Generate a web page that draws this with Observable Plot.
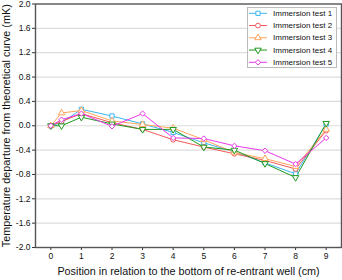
<!DOCTYPE html>
<html><head><meta charset="utf-8">
<script src="https://cdn.jsdelivr.net/npm/d3@7"></script>
<script src="https://cdn.jsdelivr.net/npm/@observablehq/plot@0.6"></script>
<style>body{margin:0;background:#fff;} svg{display:block;}</style>
</head><body><div id="chart"></div>
<script>
const positions = [0, 0.35, 1, 2, 3, 4, 5, 6, 7, 8, 9];
const test1 = [0, 0.05, 0.27, 0.16, 0.03, -0.11, -0.28, -0.43, -0.61, -0.79, 0.03];
const test2 = [0, 0.07, 0.20, 0.05, -0.06, -0.23, -0.35, -0.46, -0.57, -0.71, -0.08];
const test3 = [0, 0.21, 0.25, 0.08, 0.02, -0.04, -0.23, -0.44, -0.54, -0.67, -0.06];
const test4 = [0, 0.00, 0.14, 0.03, -0.06, -0.06, -0.35, -0.40, -0.62, -0.85, 0.04];
const test5 = [0, 0.10, 0.20, -0.01, 0.20, -0.20, -0.21, -0.33, -0.41, -0.63, -0.20];
const seriesNames = ["Immersion test 1", "Immersion test 2", "Immersion test 3", "Immersion test 4", "Immersion test 5"];
const seriesValues = [test1, test2, test3, test4, test5];
const seriesColors = ["#3cb6f0", "#f25a5a", "#ffa45c", "#1e9a1e", "#e838e8"];
const seriesSymbols = ["square", "circle", "triangle", "triangle", "diamond2"];
const seriesRotate = [0, 0, 0, 180, 0];
const xTicks = [0, 1, 2, 3, 4, 5, 6, 7, 8, 9];
const yTicks = [-2.0, -1.6, -1.2, -0.8, -0.4, 0.0, 0.4, 0.8, 1.2, 1.6, 2.0];
const xLabel = "Position in relation to the bottom of re-entrant well (cm)";
const yLabel = "Temperature departure from theoretical curve (mK)";

const rows = [];
seriesNames.forEach((name, i) => positions.forEach((p, j) => rows.push({series: name, idx: i, x: p, y: seriesValues[i][j]})));

const marks = [
  Plot.gridY(yTicks.slice(1, -1), {stroke: "#dcdcdc", strokeOpacity: 1, strokeWidth: 1.2}),
  Plot.axisX(xTicks, {tickSize: 3, tickPadding: 2, tickFormat: d => String(d), fontSize: 8.5, label: null, stroke: "#333"}),
  Plot.axisY(yTicks, {tickSize: 3, tickPadding: 2, tickFormat: d => d.toFixed(1), fontSize: 8.5, label: null, stroke: "#333"}),
  Plot.text([xLabel], {frameAnchor: "bottom", dy: 27, fontSize: 10.8, fill: "#111"}),
  Plot.text([yLabel], {frameAnchor: "left", textAnchor: "middle", dx: -28.5, rotate: -90, fontSize: 10.8, fill: "#111"})
];
seriesNames.forEach((name, i) => {
  const d = rows.filter(r => r.idx === i);
  marks.push(Plot.line(d, {x: "x", y: "y", stroke: seriesColors[i], strokeWidth: 1}));
});
seriesNames.forEach((name, i) => {
  const d = rows.filter(r => r.idx === i);
  marks.push(Plot.dot(d, {x: "x", y: "y", stroke: seriesColors[i], fill: "white", strokeWidth: 1, symbol: seriesSymbols[i], r: 2.4, rotate: seriesRotate[i]}));
});
marks.push(Plot.frame({stroke: "#555", strokeWidth: 1.4}));

const chart = Plot.plot({
  width: 342, height: 280,
  marginLeft: 35, marginRight: 1, marginTop: 3.5, marginBottom: 33,
  style: {fontFamily: "'Liberation Sans', Arial, sans-serif", background: "white", color: "#111"},
  x: {domain: [-0.5, 9.5]},
  y: {domain: [-2, 2]},
  marks
});
document.getElementById("chart").append(chart);

// legend (inside plot, top-right)
const svg = d3.select(chart);
const lg = svg.append("g").attr("font-family", "'Liberation Sans', Arial, sans-serif").attr("font-size", 8).attr("text-anchor", "start");
lg.append("rect").attr("x", 247.5).attr("y", 7.5).attr("width", 89).attr("height", 60)
  .attr("fill", "white").attr("stroke", "#bbb").attr("stroke-width", 1);
seriesNames.forEach((name, i) => {
  const y = 13.3 + i * 12.25;
  lg.append("line").attr("x1", 249).attr("x2", 267).attr("y1", y).attr("y2", y)
    .attr("stroke", seriesColors[i]).attr("stroke-width", 1);
  const sym = {square: d3.symbolSquare, circle: d3.symbolCircle, triangle: d3.symbolTriangle, diamond2: d3.symbolDiamond2}[seriesSymbols[i]];
  lg.append("path").attr("d", d3.symbol(sym, Math.PI * 2.4 * 2.4)())
    .attr("transform", `translate(258,${y}) rotate(${seriesRotate[i]})`)
    .attr("fill", "white").attr("stroke", seriesColors[i]).attr("stroke-width", 1);
  lg.append("text").attr("x", 273).attr("y", y).attr("dy", "0.32em").attr("text-anchor", "start").attr("fill", "#111").text(name);
});
</script></body></html>
